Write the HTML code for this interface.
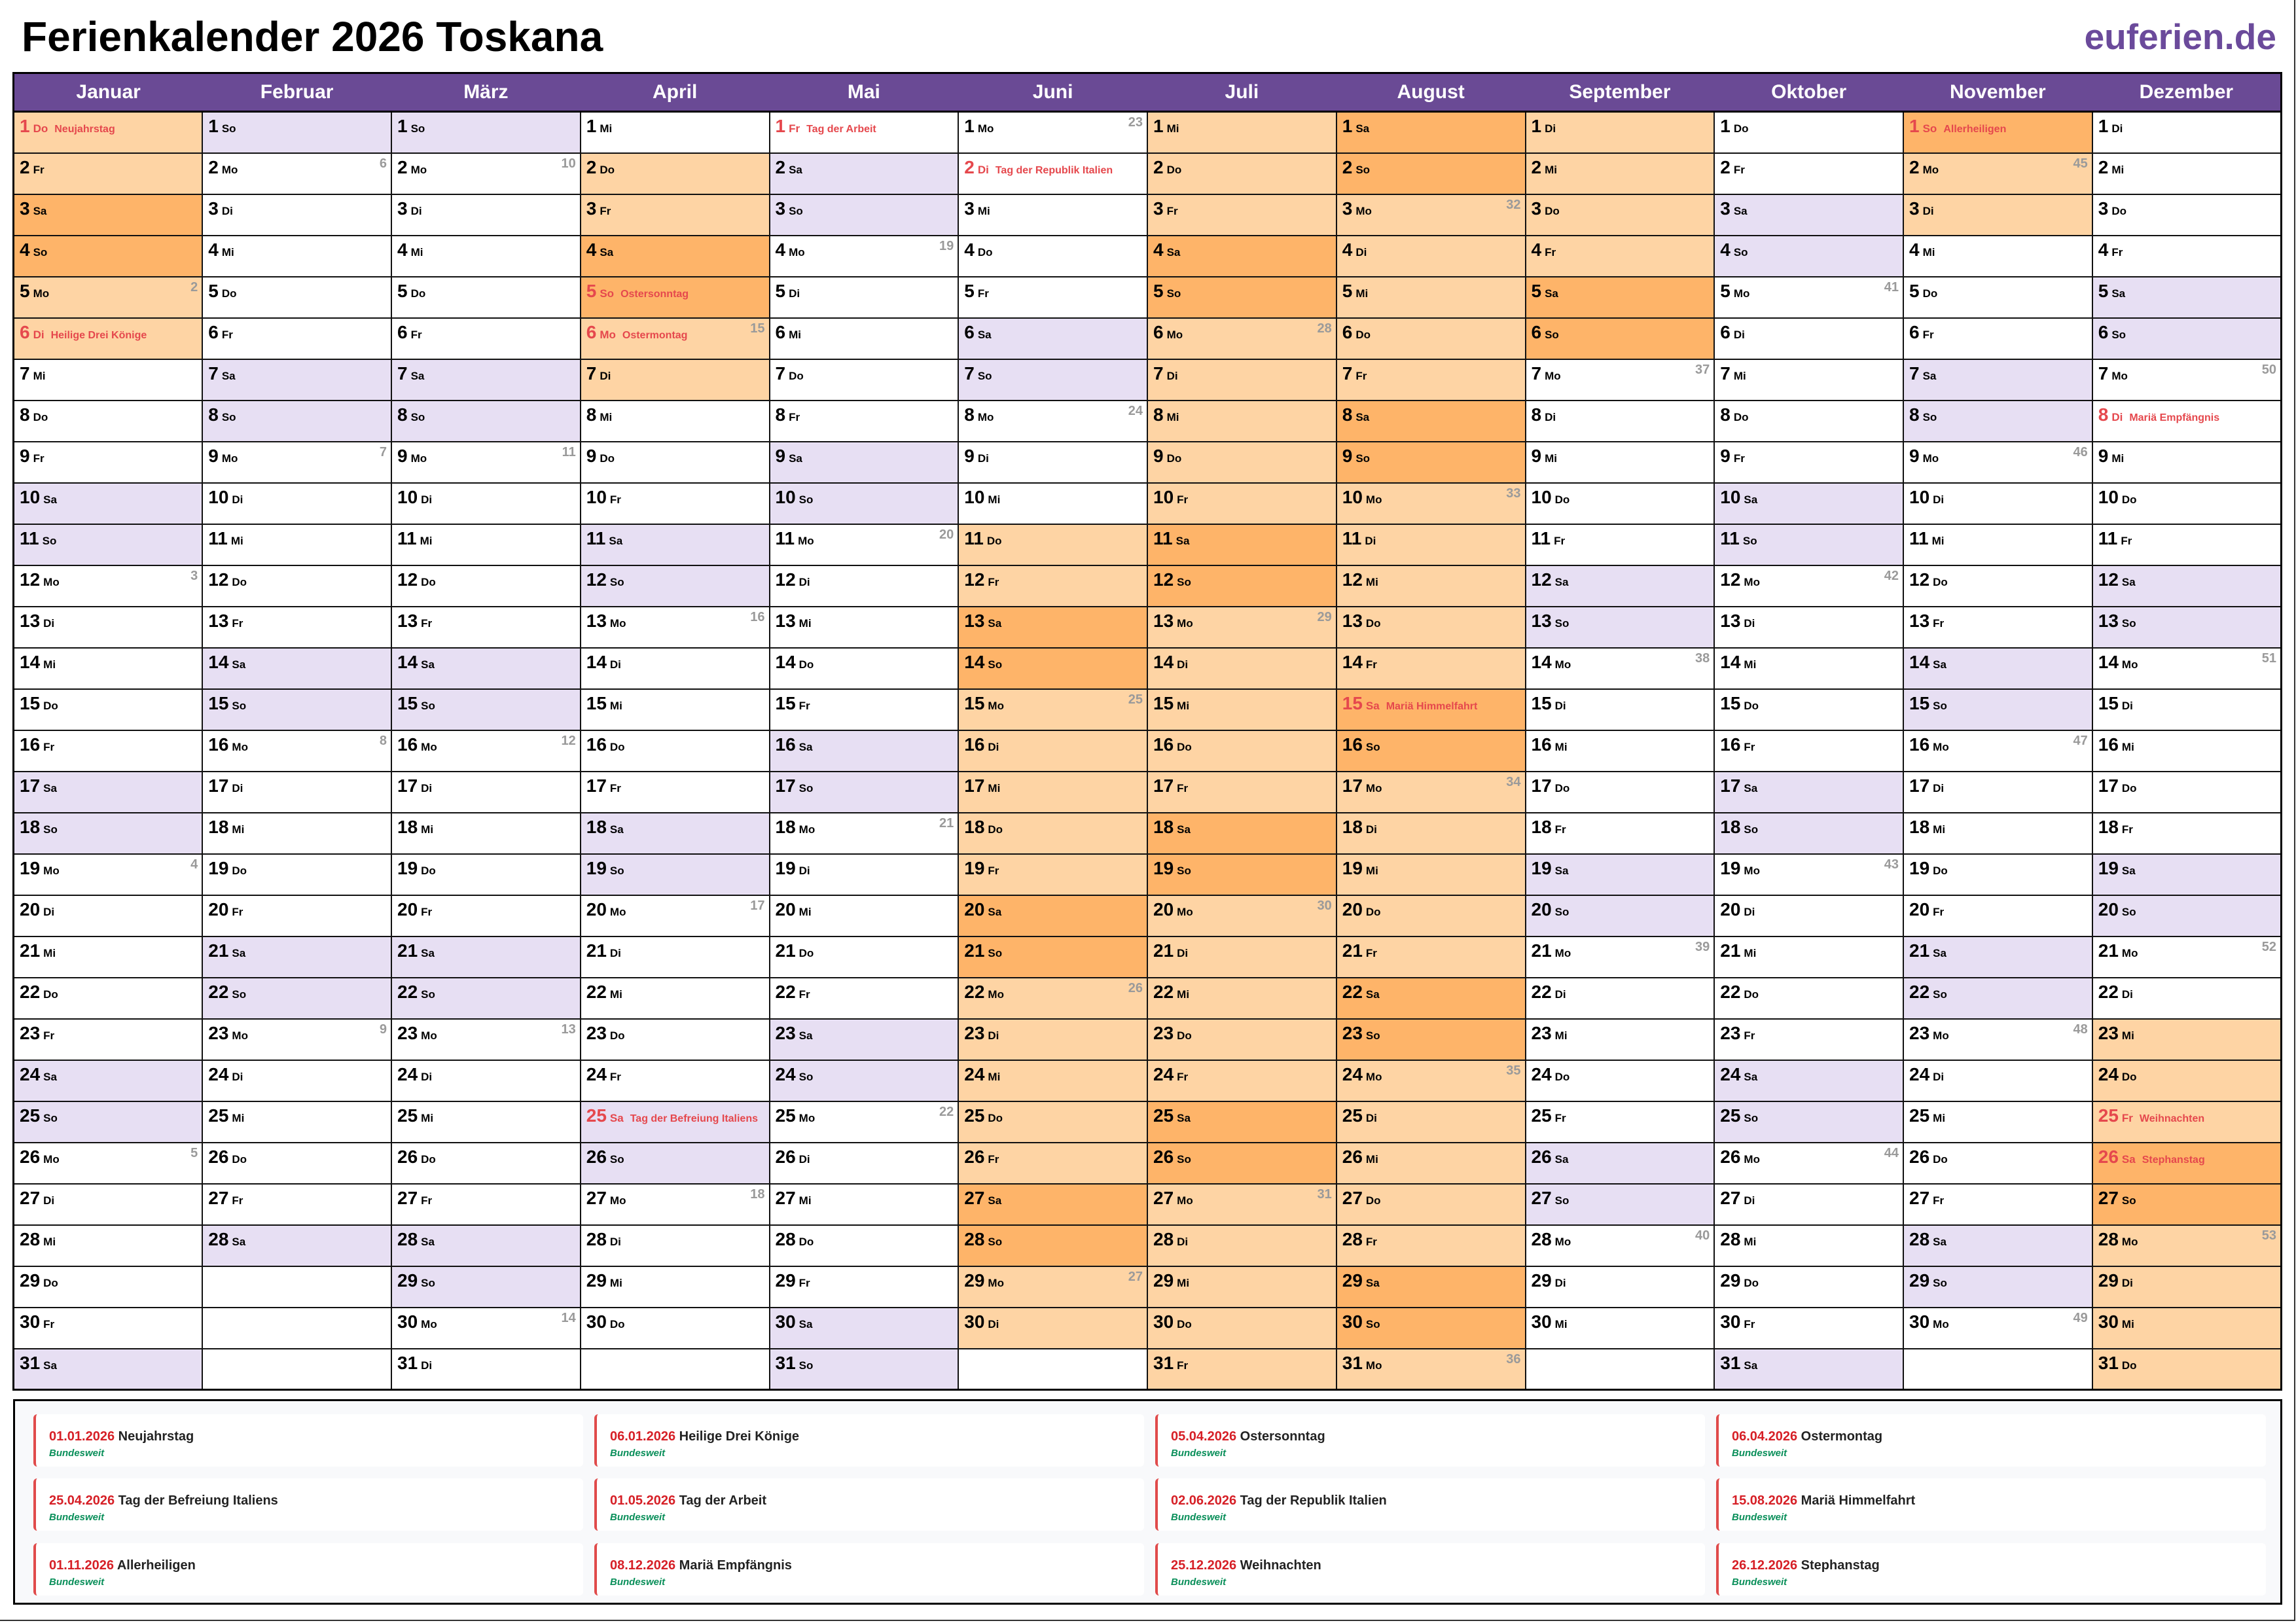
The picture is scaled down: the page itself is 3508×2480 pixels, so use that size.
<!DOCTYPE html>
<html><head><meta charset="utf-8"><style>
*{margin:0;padding:0}
body{width:3508px;height:2480px;position:relative;background:#fff;font-family:"Liberation Sans",Arial,sans-serif;overflow:hidden}
#t{position:absolute;left:33px;top:16px;font-size:64px;font-weight:bold;color:#000;line-height:80px}
#eu{position:absolute;right:30px;top:18px;font-size:55px;font-weight:bold;color:#6b4a9b;line-height:76px}
table{position:absolute;left:19px;top:110px;border-collapse:collapse;table-layout:fixed;width:3468px;border:3px solid #000}
th{height:56px;background:#6a4a95;color:#fff;font-size:30px;font-weight:bold;border:none;border-bottom:3px solid #000;padding:0}
tr.r{height:63px}
td{border:2px solid #111;vertical-align:top;padding:6px 0 0 8px;position:relative;line-height:30px;white-space:nowrap;overflow:hidden;background:#fff}
td b{font-size:28px;font-weight:bold}
td i{font-style:normal;font-size:17px;font-weight:bold;margin-left:5px}
td u{text-decoration:none;font-size:16px;font-weight:bold;margin-left:10px}
td s{text-decoration:none;position:absolute;top:3px;right:6px;font-size:20px;font-weight:bold;color:#9a9a9a;line-height:24px}
td.h b,td.h i,td.h u{color:#e5484d}
.a{background:#fed4a4}.c{background:#feb469}.l{background:#e7dff3}
#lg{position:absolute;left:20px;top:2138px;width:3461px;height:308px;border:3px solid #000;background:#f8f9fb}
.cd{position:absolute;width:840px;height:80px;background:#fff;border-left:4px solid #e04b4b;border-radius:6px;padding-left:20px;box-sizing:border-box}
.cd p{font-size:20px;font-weight:bold;color:#222;margin-top:22px;line-height:24px}
.cd p span{color:#d61f26}
.cd em{display:block;font-size:15px;font-weight:bold;color:#0a8f5a;margin-top:5px;line-height:18px}
#fr{position:absolute;left:0;top:0;width:3505px;height:2475px;border-right:2px solid #333;border-bottom:2px solid #333}
</style></head><body>
<div id="fr"></div>
<div id="t">Ferienkalender 2026 Toskana</div>
<div id="eu">euferien.de</div>
<table>
<tr><th>Januar</th><th>Februar</th><th>März</th><th>April</th><th>Mai</th><th>Juni</th><th>Juli</th><th>August</th><th>September</th><th>Oktober</th><th>November</th><th>Dezember</th></tr>
<tr class="r"><td class="a h"><b>1</b><i>Do</i><u>Neujahrstag</u></td><td class="l"><b>1</b><i>So</i></td><td class="l"><b>1</b><i>So</i></td><td><b>1</b><i>Mi</i></td><td class="h"><b>1</b><i>Fr</i><u>Tag der Arbeit</u></td><td><b>1</b><i>Mo</i><s>23</s></td><td class="a"><b>1</b><i>Mi</i></td><td class="c"><b>1</b><i>Sa</i></td><td class="a"><b>1</b><i>Di</i></td><td><b>1</b><i>Do</i></td><td class="c h"><b>1</b><i>So</i><u>Allerheiligen</u></td><td><b>1</b><i>Di</i></td></tr>
<tr class="r"><td class="a"><b>2</b><i>Fr</i></td><td><b>2</b><i>Mo</i><s>6</s></td><td><b>2</b><i>Mo</i><s>10</s></td><td class="a"><b>2</b><i>Do</i></td><td class="l"><b>2</b><i>Sa</i></td><td class="h"><b>2</b><i>Di</i><u>Tag der Republik Italien</u></td><td class="a"><b>2</b><i>Do</i></td><td class="c"><b>2</b><i>So</i></td><td class="a"><b>2</b><i>Mi</i></td><td><b>2</b><i>Fr</i></td><td class="a"><b>2</b><i>Mo</i><s>45</s></td><td><b>2</b><i>Mi</i></td></tr>
<tr class="r"><td class="c"><b>3</b><i>Sa</i></td><td><b>3</b><i>Di</i></td><td><b>3</b><i>Di</i></td><td class="a"><b>3</b><i>Fr</i></td><td class="l"><b>3</b><i>So</i></td><td><b>3</b><i>Mi</i></td><td class="a"><b>3</b><i>Fr</i></td><td class="a"><b>3</b><i>Mo</i><s>32</s></td><td class="a"><b>3</b><i>Do</i></td><td class="l"><b>3</b><i>Sa</i></td><td class="a"><b>3</b><i>Di</i></td><td><b>3</b><i>Do</i></td></tr>
<tr class="r"><td class="c"><b>4</b><i>So</i></td><td><b>4</b><i>Mi</i></td><td><b>4</b><i>Mi</i></td><td class="c"><b>4</b><i>Sa</i></td><td><b>4</b><i>Mo</i><s>19</s></td><td><b>4</b><i>Do</i></td><td class="c"><b>4</b><i>Sa</i></td><td class="a"><b>4</b><i>Di</i></td><td class="a"><b>4</b><i>Fr</i></td><td class="l"><b>4</b><i>So</i></td><td><b>4</b><i>Mi</i></td><td><b>4</b><i>Fr</i></td></tr>
<tr class="r"><td class="a"><b>5</b><i>Mo</i><s>2</s></td><td><b>5</b><i>Do</i></td><td><b>5</b><i>Do</i></td><td class="c h"><b>5</b><i>So</i><u>Ostersonntag</u></td><td><b>5</b><i>Di</i></td><td><b>5</b><i>Fr</i></td><td class="c"><b>5</b><i>So</i></td><td class="a"><b>5</b><i>Mi</i></td><td class="c"><b>5</b><i>Sa</i></td><td><b>5</b><i>Mo</i><s>41</s></td><td><b>5</b><i>Do</i></td><td class="l"><b>5</b><i>Sa</i></td></tr>
<tr class="r"><td class="a h"><b>6</b><i>Di</i><u>Heilige Drei Könige</u></td><td><b>6</b><i>Fr</i></td><td><b>6</b><i>Fr</i></td><td class="a h"><b>6</b><i>Mo</i><u>Ostermontag</u><s>15</s></td><td><b>6</b><i>Mi</i></td><td class="l"><b>6</b><i>Sa</i></td><td class="a"><b>6</b><i>Mo</i><s>28</s></td><td class="a"><b>6</b><i>Do</i></td><td class="c"><b>6</b><i>So</i></td><td><b>6</b><i>Di</i></td><td><b>6</b><i>Fr</i></td><td class="l"><b>6</b><i>So</i></td></tr>
<tr class="r"><td><b>7</b><i>Mi</i></td><td class="l"><b>7</b><i>Sa</i></td><td class="l"><b>7</b><i>Sa</i></td><td class="a"><b>7</b><i>Di</i></td><td><b>7</b><i>Do</i></td><td class="l"><b>7</b><i>So</i></td><td class="a"><b>7</b><i>Di</i></td><td class="a"><b>7</b><i>Fr</i></td><td><b>7</b><i>Mo</i><s>37</s></td><td><b>7</b><i>Mi</i></td><td class="l"><b>7</b><i>Sa</i></td><td><b>7</b><i>Mo</i><s>50</s></td></tr>
<tr class="r"><td><b>8</b><i>Do</i></td><td class="l"><b>8</b><i>So</i></td><td class="l"><b>8</b><i>So</i></td><td><b>8</b><i>Mi</i></td><td><b>8</b><i>Fr</i></td><td><b>8</b><i>Mo</i><s>24</s></td><td class="a"><b>8</b><i>Mi</i></td><td class="c"><b>8</b><i>Sa</i></td><td><b>8</b><i>Di</i></td><td><b>8</b><i>Do</i></td><td class="l"><b>8</b><i>So</i></td><td class="h"><b>8</b><i>Di</i><u>Mariä Empfängnis</u></td></tr>
<tr class="r"><td><b>9</b><i>Fr</i></td><td><b>9</b><i>Mo</i><s>7</s></td><td><b>9</b><i>Mo</i><s>11</s></td><td><b>9</b><i>Do</i></td><td class="l"><b>9</b><i>Sa</i></td><td><b>9</b><i>Di</i></td><td class="a"><b>9</b><i>Do</i></td><td class="c"><b>9</b><i>So</i></td><td><b>9</b><i>Mi</i></td><td><b>9</b><i>Fr</i></td><td><b>9</b><i>Mo</i><s>46</s></td><td><b>9</b><i>Mi</i></td></tr>
<tr class="r"><td class="l"><b>10</b><i>Sa</i></td><td><b>10</b><i>Di</i></td><td><b>10</b><i>Di</i></td><td><b>10</b><i>Fr</i></td><td class="l"><b>10</b><i>So</i></td><td><b>10</b><i>Mi</i></td><td class="a"><b>10</b><i>Fr</i></td><td class="a"><b>10</b><i>Mo</i><s>33</s></td><td><b>10</b><i>Do</i></td><td class="l"><b>10</b><i>Sa</i></td><td><b>10</b><i>Di</i></td><td><b>10</b><i>Do</i></td></tr>
<tr class="r"><td class="l"><b>11</b><i>So</i></td><td><b>11</b><i>Mi</i></td><td><b>11</b><i>Mi</i></td><td class="l"><b>11</b><i>Sa</i></td><td><b>11</b><i>Mo</i><s>20</s></td><td class="a"><b>11</b><i>Do</i></td><td class="c"><b>11</b><i>Sa</i></td><td class="a"><b>11</b><i>Di</i></td><td><b>11</b><i>Fr</i></td><td class="l"><b>11</b><i>So</i></td><td><b>11</b><i>Mi</i></td><td><b>11</b><i>Fr</i></td></tr>
<tr class="r"><td><b>12</b><i>Mo</i><s>3</s></td><td><b>12</b><i>Do</i></td><td><b>12</b><i>Do</i></td><td class="l"><b>12</b><i>So</i></td><td><b>12</b><i>Di</i></td><td class="a"><b>12</b><i>Fr</i></td><td class="c"><b>12</b><i>So</i></td><td class="a"><b>12</b><i>Mi</i></td><td class="l"><b>12</b><i>Sa</i></td><td><b>12</b><i>Mo</i><s>42</s></td><td><b>12</b><i>Do</i></td><td class="l"><b>12</b><i>Sa</i></td></tr>
<tr class="r"><td><b>13</b><i>Di</i></td><td><b>13</b><i>Fr</i></td><td><b>13</b><i>Fr</i></td><td><b>13</b><i>Mo</i><s>16</s></td><td><b>13</b><i>Mi</i></td><td class="c"><b>13</b><i>Sa</i></td><td class="a"><b>13</b><i>Mo</i><s>29</s></td><td class="a"><b>13</b><i>Do</i></td><td class="l"><b>13</b><i>So</i></td><td><b>13</b><i>Di</i></td><td><b>13</b><i>Fr</i></td><td class="l"><b>13</b><i>So</i></td></tr>
<tr class="r"><td><b>14</b><i>Mi</i></td><td class="l"><b>14</b><i>Sa</i></td><td class="l"><b>14</b><i>Sa</i></td><td><b>14</b><i>Di</i></td><td><b>14</b><i>Do</i></td><td class="c"><b>14</b><i>So</i></td><td class="a"><b>14</b><i>Di</i></td><td class="a"><b>14</b><i>Fr</i></td><td><b>14</b><i>Mo</i><s>38</s></td><td><b>14</b><i>Mi</i></td><td class="l"><b>14</b><i>Sa</i></td><td><b>14</b><i>Mo</i><s>51</s></td></tr>
<tr class="r"><td><b>15</b><i>Do</i></td><td class="l"><b>15</b><i>So</i></td><td class="l"><b>15</b><i>So</i></td><td><b>15</b><i>Mi</i></td><td><b>15</b><i>Fr</i></td><td class="a"><b>15</b><i>Mo</i><s>25</s></td><td class="a"><b>15</b><i>Mi</i></td><td class="c h"><b>15</b><i>Sa</i><u>Mariä Himmelfahrt</u></td><td><b>15</b><i>Di</i></td><td><b>15</b><i>Do</i></td><td class="l"><b>15</b><i>So</i></td><td><b>15</b><i>Di</i></td></tr>
<tr class="r"><td><b>16</b><i>Fr</i></td><td><b>16</b><i>Mo</i><s>8</s></td><td><b>16</b><i>Mo</i><s>12</s></td><td><b>16</b><i>Do</i></td><td class="l"><b>16</b><i>Sa</i></td><td class="a"><b>16</b><i>Di</i></td><td class="a"><b>16</b><i>Do</i></td><td class="c"><b>16</b><i>So</i></td><td><b>16</b><i>Mi</i></td><td><b>16</b><i>Fr</i></td><td><b>16</b><i>Mo</i><s>47</s></td><td><b>16</b><i>Mi</i></td></tr>
<tr class="r"><td class="l"><b>17</b><i>Sa</i></td><td><b>17</b><i>Di</i></td><td><b>17</b><i>Di</i></td><td><b>17</b><i>Fr</i></td><td class="l"><b>17</b><i>So</i></td><td class="a"><b>17</b><i>Mi</i></td><td class="a"><b>17</b><i>Fr</i></td><td class="a"><b>17</b><i>Mo</i><s>34</s></td><td><b>17</b><i>Do</i></td><td class="l"><b>17</b><i>Sa</i></td><td><b>17</b><i>Di</i></td><td><b>17</b><i>Do</i></td></tr>
<tr class="r"><td class="l"><b>18</b><i>So</i></td><td><b>18</b><i>Mi</i></td><td><b>18</b><i>Mi</i></td><td class="l"><b>18</b><i>Sa</i></td><td><b>18</b><i>Mo</i><s>21</s></td><td class="a"><b>18</b><i>Do</i></td><td class="c"><b>18</b><i>Sa</i></td><td class="a"><b>18</b><i>Di</i></td><td><b>18</b><i>Fr</i></td><td class="l"><b>18</b><i>So</i></td><td><b>18</b><i>Mi</i></td><td><b>18</b><i>Fr</i></td></tr>
<tr class="r"><td><b>19</b><i>Mo</i><s>4</s></td><td><b>19</b><i>Do</i></td><td><b>19</b><i>Do</i></td><td class="l"><b>19</b><i>So</i></td><td><b>19</b><i>Di</i></td><td class="a"><b>19</b><i>Fr</i></td><td class="c"><b>19</b><i>So</i></td><td class="a"><b>19</b><i>Mi</i></td><td class="l"><b>19</b><i>Sa</i></td><td><b>19</b><i>Mo</i><s>43</s></td><td><b>19</b><i>Do</i></td><td class="l"><b>19</b><i>Sa</i></td></tr>
<tr class="r"><td><b>20</b><i>Di</i></td><td><b>20</b><i>Fr</i></td><td><b>20</b><i>Fr</i></td><td><b>20</b><i>Mo</i><s>17</s></td><td><b>20</b><i>Mi</i></td><td class="c"><b>20</b><i>Sa</i></td><td class="a"><b>20</b><i>Mo</i><s>30</s></td><td class="a"><b>20</b><i>Do</i></td><td class="l"><b>20</b><i>So</i></td><td><b>20</b><i>Di</i></td><td><b>20</b><i>Fr</i></td><td class="l"><b>20</b><i>So</i></td></tr>
<tr class="r"><td><b>21</b><i>Mi</i></td><td class="l"><b>21</b><i>Sa</i></td><td class="l"><b>21</b><i>Sa</i></td><td><b>21</b><i>Di</i></td><td><b>21</b><i>Do</i></td><td class="c"><b>21</b><i>So</i></td><td class="a"><b>21</b><i>Di</i></td><td class="a"><b>21</b><i>Fr</i></td><td><b>21</b><i>Mo</i><s>39</s></td><td><b>21</b><i>Mi</i></td><td class="l"><b>21</b><i>Sa</i></td><td><b>21</b><i>Mo</i><s>52</s></td></tr>
<tr class="r"><td><b>22</b><i>Do</i></td><td class="l"><b>22</b><i>So</i></td><td class="l"><b>22</b><i>So</i></td><td><b>22</b><i>Mi</i></td><td><b>22</b><i>Fr</i></td><td class="a"><b>22</b><i>Mo</i><s>26</s></td><td class="a"><b>22</b><i>Mi</i></td><td class="c"><b>22</b><i>Sa</i></td><td><b>22</b><i>Di</i></td><td><b>22</b><i>Do</i></td><td class="l"><b>22</b><i>So</i></td><td><b>22</b><i>Di</i></td></tr>
<tr class="r"><td><b>23</b><i>Fr</i></td><td><b>23</b><i>Mo</i><s>9</s></td><td><b>23</b><i>Mo</i><s>13</s></td><td><b>23</b><i>Do</i></td><td class="l"><b>23</b><i>Sa</i></td><td class="a"><b>23</b><i>Di</i></td><td class="a"><b>23</b><i>Do</i></td><td class="c"><b>23</b><i>So</i></td><td><b>23</b><i>Mi</i></td><td><b>23</b><i>Fr</i></td><td><b>23</b><i>Mo</i><s>48</s></td><td class="a"><b>23</b><i>Mi</i></td></tr>
<tr class="r"><td class="l"><b>24</b><i>Sa</i></td><td><b>24</b><i>Di</i></td><td><b>24</b><i>Di</i></td><td><b>24</b><i>Fr</i></td><td class="l"><b>24</b><i>So</i></td><td class="a"><b>24</b><i>Mi</i></td><td class="a"><b>24</b><i>Fr</i></td><td class="a"><b>24</b><i>Mo</i><s>35</s></td><td><b>24</b><i>Do</i></td><td class="l"><b>24</b><i>Sa</i></td><td><b>24</b><i>Di</i></td><td class="a"><b>24</b><i>Do</i></td></tr>
<tr class="r"><td class="l"><b>25</b><i>So</i></td><td><b>25</b><i>Mi</i></td><td><b>25</b><i>Mi</i></td><td class="l h"><b>25</b><i>Sa</i><u>Tag der Befreiung Italiens</u></td><td><b>25</b><i>Mo</i><s>22</s></td><td class="a"><b>25</b><i>Do</i></td><td class="c"><b>25</b><i>Sa</i></td><td class="a"><b>25</b><i>Di</i></td><td><b>25</b><i>Fr</i></td><td class="l"><b>25</b><i>So</i></td><td><b>25</b><i>Mi</i></td><td class="a h"><b>25</b><i>Fr</i><u>Weihnachten</u></td></tr>
<tr class="r"><td><b>26</b><i>Mo</i><s>5</s></td><td><b>26</b><i>Do</i></td><td><b>26</b><i>Do</i></td><td class="l"><b>26</b><i>So</i></td><td><b>26</b><i>Di</i></td><td class="a"><b>26</b><i>Fr</i></td><td class="c"><b>26</b><i>So</i></td><td class="a"><b>26</b><i>Mi</i></td><td class="l"><b>26</b><i>Sa</i></td><td><b>26</b><i>Mo</i><s>44</s></td><td><b>26</b><i>Do</i></td><td class="c h"><b>26</b><i>Sa</i><u>Stephanstag</u></td></tr>
<tr class="r"><td><b>27</b><i>Di</i></td><td><b>27</b><i>Fr</i></td><td><b>27</b><i>Fr</i></td><td><b>27</b><i>Mo</i><s>18</s></td><td><b>27</b><i>Mi</i></td><td class="c"><b>27</b><i>Sa</i></td><td class="a"><b>27</b><i>Mo</i><s>31</s></td><td class="a"><b>27</b><i>Do</i></td><td class="l"><b>27</b><i>So</i></td><td><b>27</b><i>Di</i></td><td><b>27</b><i>Fr</i></td><td class="c"><b>27</b><i>So</i></td></tr>
<tr class="r"><td><b>28</b><i>Mi</i></td><td class="l"><b>28</b><i>Sa</i></td><td class="l"><b>28</b><i>Sa</i></td><td><b>28</b><i>Di</i></td><td><b>28</b><i>Do</i></td><td class="c"><b>28</b><i>So</i></td><td class="a"><b>28</b><i>Di</i></td><td class="a"><b>28</b><i>Fr</i></td><td><b>28</b><i>Mo</i><s>40</s></td><td><b>28</b><i>Mi</i></td><td class="l"><b>28</b><i>Sa</i></td><td class="a"><b>28</b><i>Mo</i><s>53</s></td></tr>
<tr class="r"><td><b>29</b><i>Do</i></td><td></td><td class="l"><b>29</b><i>So</i></td><td><b>29</b><i>Mi</i></td><td><b>29</b><i>Fr</i></td><td class="a"><b>29</b><i>Mo</i><s>27</s></td><td class="a"><b>29</b><i>Mi</i></td><td class="c"><b>29</b><i>Sa</i></td><td><b>29</b><i>Di</i></td><td><b>29</b><i>Do</i></td><td class="l"><b>29</b><i>So</i></td><td class="a"><b>29</b><i>Di</i></td></tr>
<tr class="r"><td><b>30</b><i>Fr</i></td><td></td><td><b>30</b><i>Mo</i><s>14</s></td><td><b>30</b><i>Do</i></td><td class="l"><b>30</b><i>Sa</i></td><td class="a"><b>30</b><i>Di</i></td><td class="a"><b>30</b><i>Do</i></td><td class="c"><b>30</b><i>So</i></td><td><b>30</b><i>Mi</i></td><td><b>30</b><i>Fr</i></td><td><b>30</b><i>Mo</i><s>49</s></td><td class="a"><b>30</b><i>Mi</i></td></tr>
<tr class="r"><td class="l"><b>31</b><i>Sa</i></td><td></td><td><b>31</b><i>Di</i></td><td></td><td class="l"><b>31</b><i>So</i></td><td></td><td class="a"><b>31</b><i>Fr</i></td><td class="a"><b>31</b><i>Mo</i><s>36</s></td><td></td><td class="l"><b>31</b><i>Sa</i></td><td></td><td class="a"><b>31</b><i>Do</i></td></tr>
</table>
<div id="lg"></div>
<div class="cd" style="left:51px;top:2161px"><p><span>01.01.2026</span> Neujahrstag</p><em>Bundesweit</em></div>
<div class="cd" style="left:908px;top:2161px"><p><span>06.01.2026</span> Heilige Drei Könige</p><em>Bundesweit</em></div>
<div class="cd" style="left:1765px;top:2161px"><p><span>05.04.2026</span> Ostersonntag</p><em>Bundesweit</em></div>
<div class="cd" style="left:2622px;top:2161px"><p><span>06.04.2026</span> Ostermontag</p><em>Bundesweit</em></div>
<div class="cd" style="left:51px;top:2259px"><p><span>25.04.2026</span> Tag der Befreiung Italiens</p><em>Bundesweit</em></div>
<div class="cd" style="left:908px;top:2259px"><p><span>01.05.2026</span> Tag der Arbeit</p><em>Bundesweit</em></div>
<div class="cd" style="left:1765px;top:2259px"><p><span>02.06.2026</span> Tag der Republik Italien</p><em>Bundesweit</em></div>
<div class="cd" style="left:2622px;top:2259px"><p><span>15.08.2026</span> Mariä Himmelfahrt</p><em>Bundesweit</em></div>
<div class="cd" style="left:51px;top:2358px"><p><span>01.11.2026</span> Allerheiligen</p><em>Bundesweit</em></div>
<div class="cd" style="left:908px;top:2358px"><p><span>08.12.2026</span> Mariä Empfängnis</p><em>Bundesweit</em></div>
<div class="cd" style="left:1765px;top:2358px"><p><span>25.12.2026</span> Weihnachten</p><em>Bundesweit</em></div>
<div class="cd" style="left:2622px;top:2358px"><p><span>26.12.2026</span> Stephanstag</p><em>Bundesweit</em></div>
</body></html>
